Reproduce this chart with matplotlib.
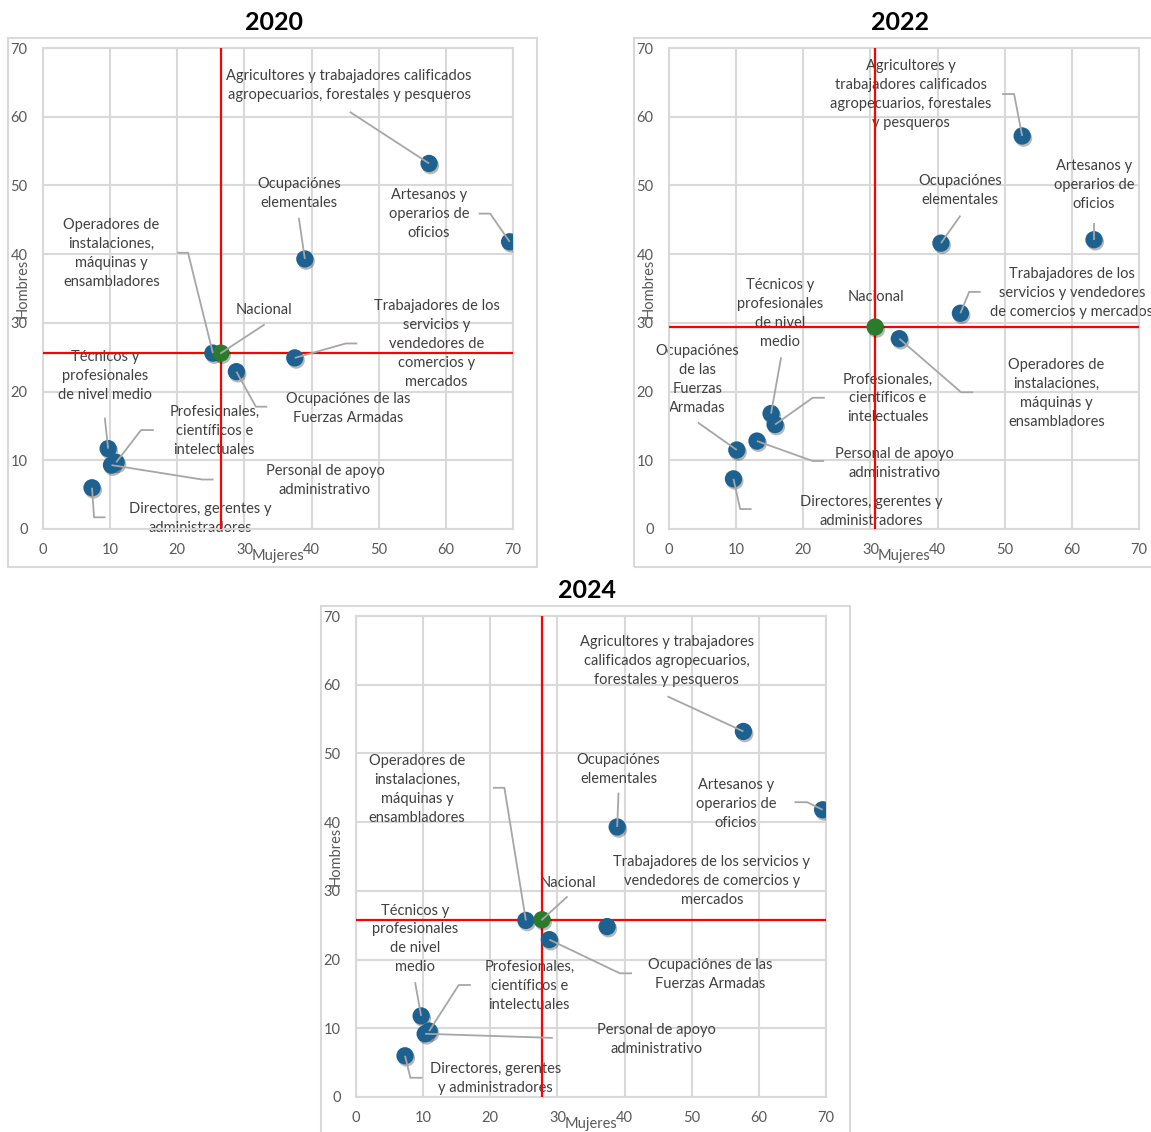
import matplotlib
matplotlib.use("Agg")
import matplotlib.pyplot as plt
import matplotlib.patheffects as pe
from matplotlib.patches import Rectangle

plt.rcParams['font.family'] = ['Lato', 'DejaVu Sans']

W, H = 1151, 1132

# ---------------- data ----------------
cat_keys = ["agri", "arte", "elem", "oper", "serv", "ffaa", "tecn", "prof", "apoy", "dire"]

labels_2020 = ["Agricultores y trabajadores calificados\nagropecuarios, forestales y pesqueros",
               "Artesanos y\noperarios de\noficios",
               "Ocupaciónes\nelementales",
               "Operadores de\ninstalaciones,\nmáquinas y\nensambladores",
               "Trabajadores de los\nservicios y\nvendedores de\ncomercios y\nmercados",
               "Ocupaciónes de las\nFuerzas Armadas",
               "Técnicos y\nprofesionales\nde nivel medio",
               "Profesionales,\ncientíficos e\nintelectuales",
               "Personal de apoyo\nadministrativo",
               "Directores, gerentes y\nadministradores"]
labels_2022 = ["Agricultores y\ntrabajadores calificados\nagropecuarios, forestales\ny pesqueros",
               "Artesanos y\noperarios de\noficios",
               "Ocupaciónes\nelementales",
               "Operadores de\ninstalaciones,\nmáquinas y\nensambladores",
               "Trabajadores de los\nservicios y vendedores\nde comercios y mercados",
               "Ocupaciónes\nde las\nFuerzas\nArmadas",
               "Técnicos y\nprofesionales\nde nivel\nmedio",
               "Profesionales,\ncientíficos e\nintelectuales",
               "Personal de apoyo\nadministrativo",
               "Directores, gerentes y\nadministradores"]
labels_2024 = ["Agricultores y trabajadores\ncalificados agropecuarios,\nforestales y pesqueros",
               "Artesanos y\noperarios de\noficios",
               "Ocupaciónes\nelementales",
               "Operadores de\ninstalaciones,\nmáquinas y\nensambladores",
               "Trabajadores de los servicios y\nvendedores de comercios y\nmercados",
               "Ocupaciónes de las\nFuerzas Armadas",
               "Técnicos y\nprofesionales\nde nivel\nmedio",
               "Profesionales,\ncientíficos e\nintelectuales",
               "Personal de apoyo\nadministrativo",
               "Directores, gerentes\ny administradores"]

mujeres_2020 = [57.5, 69.5, 39.0, 25.3, 37.5, 28.8, 9.7, 10.9, 10.2, 7.3]
hombres_2020 = [53.2, 41.8, 39.3, 25.6, 24.9, 22.9, 11.7, 9.7, 9.3, 6.0]
mujeres_2022 = [52.6, 63.3, 40.5, 34.3, 43.4, 10.1, 15.2, 15.8, 13.1, 9.6]
hombres_2022 = [57.2, 42.1, 41.6, 27.7, 31.4, 11.5, 16.8, 15.2, 12.8, 7.3]
mujeres_2024 = [57.7, 69.5, 38.9, 25.3, 37.4, 28.8, 9.7, 10.9, 10.3, 7.3]
hombres_2024 = [53.2, 41.8, 39.3, 25.7, 24.8, 22.9, 11.8, 9.6, 9.2, 6.0]

nacional_2020 = (26.5, 25.6)
nacional_2022 = (30.7, 29.4)
nacional_2024 = (27.7, 25.8)

# label centre positions (data units) and leader line elbows
labpos_2020 = [(45.6, 64.6), (57.5, 45.9), (38.1, 48.8), (10.2, 40.1), (58.6, 26.9),
               (45.4, 17.6), (9.2, 22.3), (25.5, 14.3), (42.0, 7.05), (23.4, 1.5)]
leader_2020 = [[(45.7, 60.7)], [(64.9, 45.9), (66.6, 45.9)], [(38.1, 45.3)],
               [(20.0, 40.2), (21.6, 40.2)], [(46.8, 27.0), (45.1, 27.0)],
               [(33.4, 17.8), (31.7, 17.8)], [(9.2, 16.2)], [(16.5, 14.4), (14.6, 14.4)],
               [(25.4, 7.2), (23.7, 7.2)], [(9.3, 1.7), (7.6, 1.7)]]
nac_lab_2020 = (32.9, 31.8)
nac_leader_2020 = [(32.9, 29.7)]

labpos_2022 = [(36.0, 63.2), (63.3, 50.0), (43.4, 49.2), (57.7, 19.7), (60.0, 34.3),
               (4.2, 21.7), (16.6, 31.3), (32.6, 19.0), (33.6, 9.6), (30.1, 2.6)]
leader_2022 = [[(49.6, 63.3), (51.4, 63.3)], [(63.3, 44.5)], [(43.4, 45.6)],
               [(45.3, 19.9), (43.5, 19.9)], [(46.4, 34.5), (44.7, 34.5)],
               [(4.3, 15.5)], [(16.7, 25.0)], [(23.2, 19.1), (21.4, 19.1)],
               [(23.1, 9.9), (21.4, 9.9)], [(12.3, 2.9), (10.6, 2.9)]]
nac_lab_2022 = (30.8, 33.7)
nac_leader_2022 = []

labpos_2024 = [(46.3, 63.5), (56.6, 42.7), (39.1, 47.7), (9.1, 44.8), (53.0, 31.5),
               (52.7, 17.8), (8.8, 23.0), (25.8, 16.2), (44.8, 8.4), (20.8, 2.7)]
leader_2024 = [[(46.4, 58.3)], [(65.3, 42.9), (67.2, 42.9)], [(39.1, 44.3)],
               [(20.4, 45.0), (22.1, 45.0)], [],
               [(41.1, 18.0), (39.3, 18.0)], [(8.8, 16.7)], [(17.1, 16.3), (15.3, 16.3)],
               [(29.3, 8.6)], [(9.9, 2.8), (8.1, 2.8)]]
nac_lab_2024 = (31.5, 31.1)
nac_leader_2024 = [(31.4, 29.1)]

ticks = [0, 10, 20, 30, 40, 50, 60, 70]

# ---------------- style ----------------
BLUE = '#1C6190'
GREEN = '#2A7B2C'
GRID = '#D9D9D9'
TXT = '#404040'
TICK = '#595959'
LEAD = '#A6A6A6'

fig = plt.figure(figsize=(W / 100, H / 100), dpi=100)


def fx(px):
    return px / W


def fy(py):
    return 1 - py / H


def make_panel(left_px, top_px, title, title_x, title_y, box, mujeres, hombres, labels,
               labpos, leaders, nac, nac_lab, nac_leader):
    ax = fig.add_axes([fx(left_px), fy(top_px + 481), 470 / W, 481 / H])
    ax.set_xlim(0, 70)
    ax.set_ylim(0, 70)
    ax.set_xticks(ticks)
    ax.set_yticks(ticks)
    ax.grid(True, color=GRID, lw=1.5, zorder=0)
    ax.set_axisbelow(True)
    for s in ax.spines.values():
        s.set_color(GRID)
        s.set_linewidth(1.5)
    ax.tick_params(length=0, labelsize=10.5, colors=TICK)
    ax.tick_params(axis='y', pad=11)
    ax.tick_params(axis='x', pad=10)
    ax.text(0.5, -0.056, "Mujeres", transform=ax.transAxes, ha='center', va='center',
            fontsize=10.5, color=TICK)
    ax.text(-0.044, 0.5, "Hombres", transform=ax.transAxes, ha='center', va='center',
            rotation=90, fontsize=10.5, color=TICK)
    # labels
    for lab, (tx, ty) in zip(labels, labpos):
        ax.text(tx, ty, lab, ha='center', va='center', fontsize=10.5, color=TXT,
                linespacing=1.45, zorder=2, clip_on=False)
    ax.text(nac_lab[0], nac_lab[1], "Nacional", ha='center', va='center', fontsize=10.5,
            color=TXT, zorder=2)
    # red reference lines
    ax.axvline(nac[0], color='#FF0000', lw=1.6, zorder=3)
    ax.axhline(nac[1], color='#FF0000', lw=1.6, zorder=3)
    # markers
    shadow = [pe.SimplePatchShadow(offset=(1.0, -1.6), shadow_rgbFace='#000000', alpha=0.28),
              pe.Normal()]
    sc = ax.scatter(mujeres, hombres, s=155, color=BLUE, edgecolors='none', zorder=4)
    sc.set_path_effects(shadow)
    sg = ax.scatter([nac[0]], [nac[1]], s=155, color=GREEN, edgecolors='none', zorder=4.5)
    sg.set_path_effects(shadow)
    # leader lines
    for pts, mx, my in zip(leaders, mujeres, hombres):
        if not pts:
            continue
        xs = [p[0] for p in pts] + [mx]
        ys = [p[1] for p in pts] + [my]
        ax.plot(xs, ys, color=LEAD, lw=1.3, zorder=5, solid_capstyle='butt')
    if nac_leader:
        xs = [p[0] for p in nac_leader] + [nac[0]]
        ys = [p[1] for p in nac_leader] + [nac[1]]
        ax.plot(xs, ys, color=LEAD, lw=1.3, zorder=5)
    # title
    fig.text(fx(title_x), fy(title_y), title, ha='center', va='center', fontsize=18,
             fontweight='bold', color='black')
    # outer chart border
    bx0, by0, bx1, by1 = box
    fig.patches.append(Rectangle((fx(bx0), fy(by1)), (bx1 - bx0) / W, (by1 - by0) / H,
                                 transform=fig.transFigure, fill=False, edgecolor=GRID,
                                 lw=1.5, zorder=0))
    return ax


make_panel(43, 48, "2020", 274, 22, (8, 38, 537, 567), mujeres_2020, hombres_2020,
           labels_2020, labpos_2020, leader_2020, nacional_2020, nac_lab_2020, nac_leader_2020)
make_panel(669, 48, "2022", 900, 22, (634, 38, 1165, 567), mujeres_2022, hombres_2022,
           labels_2022, labpos_2022, leader_2022, nacional_2022, nac_lab_2022, nac_leader_2022)
make_panel(356, 616, "2024", 587, 591, (321, 606, 850, 1145), mujeres_2024, hombres_2024,
           labels_2024, labpos_2024, leader_2024, nacional_2024, nac_lab_2024, nac_leader_2024)

fig.savefig("out.png", dpi=100)
